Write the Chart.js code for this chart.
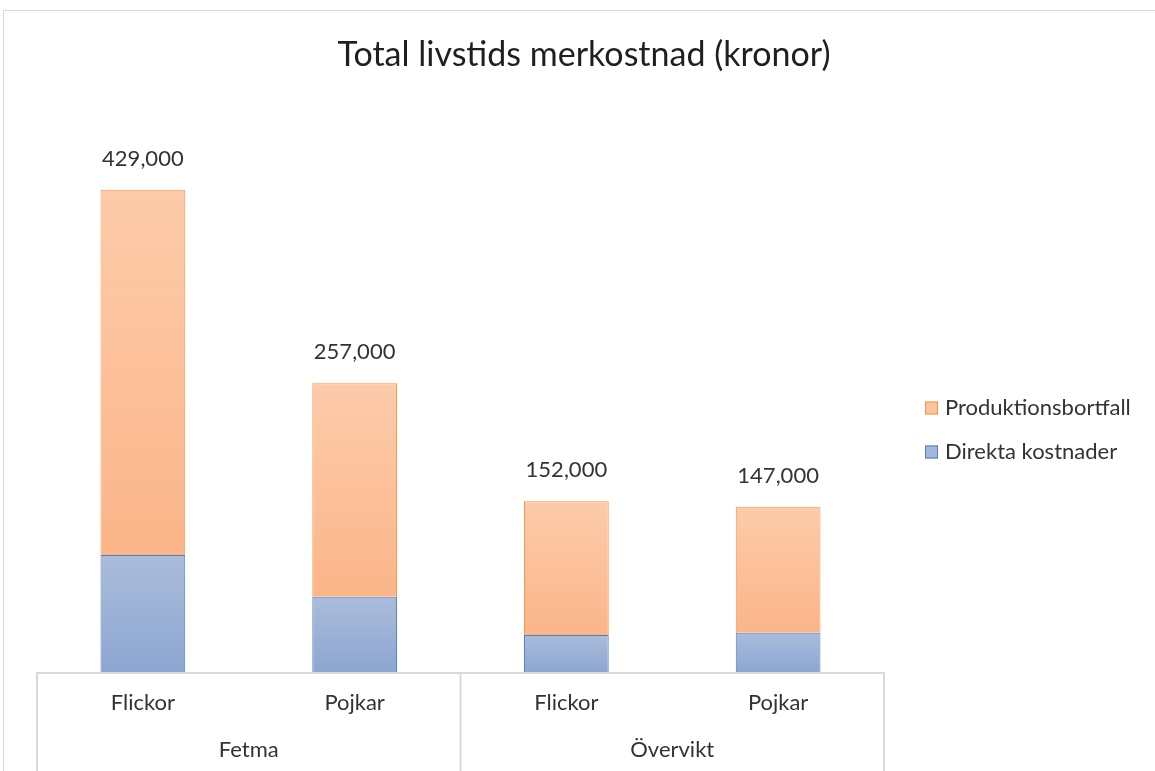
<!DOCTYPE html>
<html>
<head>
<meta charset="utf-8">
<script src="https://cdn.jsdelivr.net/npm/chart.js@4.4.1/dist/chart.umd.min.js"></script>
<style>
  html, body { margin: 0; padding: 0; background: #fff; }
  #wrap { width: 1155px; height: 771px; }
</style>
</head>
<body>
<div id="wrap"><canvas id="c"></canvas></div>
<script>
// data
const categories = ['Flickor', 'Pojkar', 'Flickor', 'Pojkar'];
const groupLabels = ['Fetma', 'Övervikt'];
const groupSizes = [2, 2];
const direktaKostnader = [104000, 67000, 33000, 35000];
const produktionsbortfall = [325000, 190000, 119000, 112000];
const chartTitle = 'Total livstids merkostnad (kronor)';

const FONT = 'Lato, "Noto Sans", sans-serif';
const TEXT = '#333333';

// gradient per bar segment, computed from the stacked values through the y scale
function barGradient(topColor, bottomColor) {
  return function (ctx) {
    const chart = ctx.chart;
    const ys = chart.scales.y;
    if (ctx.type !== 'data' || !ys) return bottomColor;
    let start = 0;
    for (let d = 0; d < ctx.datasetIndex; d++) start += chart.data.datasets[d].data[ctx.dataIndex];
    const y0 = ys.getPixelForValue(start + ctx.raw);
    const y1 = ys.getPixelForValue(start);
    if (!isFinite(y0) || !isFinite(y1) || y0 === y1) return bottomColor;
    const g = chart.ctx.createLinearGradient(0, y0, 0, y1);
    g.addColorStop(0, topColor);
    g.addColorStop(1, bottomColor);
    return g;
  };
}

const decor = {
  id: 'decor',
  afterDraw(chart) {
    const { ctx, chartArea: a, scales: { x } } = chart;
    ctx.save();

    // outer chart frame
    ctx.strokeStyle = '#d9d9d9';
    ctx.lineWidth = 1;
    ctx.strokeRect(3.5, 10.5, chart.width + 10, chart.height + 10);

    // title
    ctx.fillStyle = '#1f1f1f';
    ctx.font = '34px ' + FONT;
    ctx.textAlign = 'center';
    ctx.textBaseline = 'middle';
    ctx.fillText(chartTitle, 584, 55);

    // totals above each stack
    const topMeta = chart.getDatasetMeta(chart.data.datasets.length - 1);
    ctx.fillStyle = TEXT;
    ctx.font = '22px ' + FONT;
    topMeta.data.forEach((el, i) => {
      let sum = 0;
      chart.data.datasets.forEach(ds => { sum += ds.data[i]; });
      ctx.fillText(sum.toLocaleString('en-US'), el.x, el.y - 31);
    });

    // category axis box
    const step = x.getPixelForValue(1) - x.getPixelForValue(0);
    ctx.strokeStyle = '#d9d9d9';
    ctx.lineWidth = 2;
    ctx.beginPath();
    ctx.moveTo(a.left, a.bottom + 1);
    ctx.lineTo(a.right, a.bottom + 1);
    let s = 0;
    const bounds = [x.getPixelForValue(0) - step / 2];
    groupSizes.forEach(n => { s += n; bounds.push(x.getPixelForValue(s - 1) + step / 2); });
    bounds.forEach(bx => {
      ctx.moveTo(bx, a.bottom);
      ctx.lineTo(bx, chart.height);
    });
    ctx.stroke();

    // category labels
    ctx.fillStyle = TEXT;
    ctx.font = '22px ' + FONT;
    categories.forEach((c, i) => {
      ctx.fillText(c, x.getPixelForValue(i), a.bottom + 31);
    });
    // group labels
    s = 0;
    groupLabels.forEach((g, gi) => {
      const first = s, last = s + groupSizes[gi] - 1;
      ctx.fillText(g, (x.getPixelForValue(first) + x.getPixelForValue(last)) / 2, a.bottom + 78);
      s += groupSizes[gi];
    });

    // legend (top series first)
    const items = [
      { label: chart.data.datasets[1].label, fill: '#fcc39f', stroke: '#f79646' },
      { label: chart.data.datasets[0].label, fill: '#a3b7da', stroke: '#4f81bd' }
    ];
    ctx.font = '22px ' + FONT;
    ctx.textAlign = 'left';
    items.forEach((it, i) => {
      const cy = 408 + i * 44;
      const bx = a.right + 41;
      ctx.fillStyle = it.fill;
      ctx.fillRect(bx, cy - 6.5, 13, 13);
      ctx.strokeStyle = it.stroke;
      ctx.lineWidth = 1;
      ctx.strokeRect(bx + 0.5, cy - 6, 12, 12);
      ctx.fillStyle = TEXT;
      ctx.fillText(it.label, bx + 20, cy);
    });

    ctx.restore();
  }
};

new Chart(document.getElementById('c'), {
  type: 'bar',
  data: {
    labels: categories,
    datasets: [
      {
        label: 'Direkta kostnader',
        data: direktaKostnader,
        backgroundColor: barGradient('#abbcdb', '#8ca6d1'),
        borderColor: '#4f81bd',
        borderWidth: 1
      },
      {
        label: 'Produktionsbortfall',
        data: produktionsbortfall,
        backgroundColor: barGradient('#fdcbaa', '#fbb589'),
        borderColor: '#f79646',
        borderWidth: 1
      }
    ]
  },
  options: {
    responsive: true,
    maintainAspectRatio: false,
    animation: false,
    layout: { padding: { left: 37, right: 271, top: 110, bottom: 99 } },
    datasets: { bar: { categoryPercentage: 1, barPercentage: 0.4 } },
    scales: {
      x: { stacked: true, display: false },
      y: { stacked: true, display: false, min: 0, max: 500000 }
    },
    plugins: {
      legend: { display: false },
      title: { display: false },
      tooltip: { enabled: false }
    }
  },
  plugins: [decor]
});
</script>
</body>
</html>
